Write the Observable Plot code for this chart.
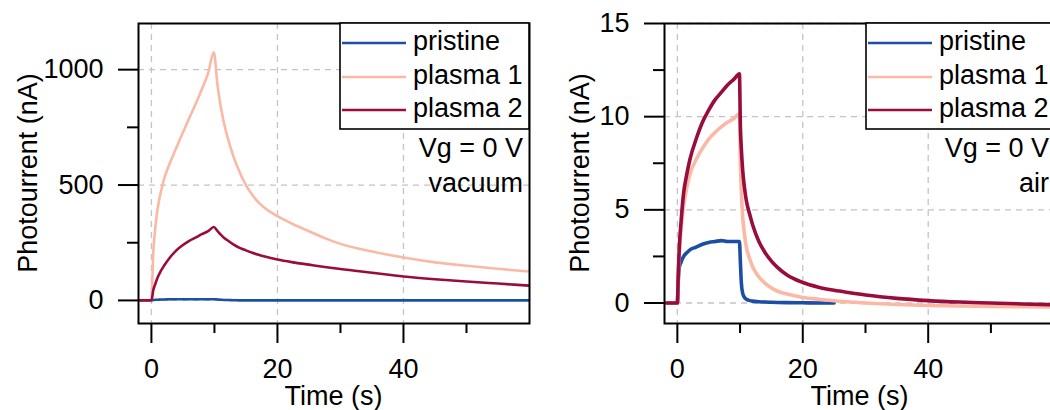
<!DOCTYPE html>
<html><head><meta charset="utf-8">
<script src="https://cdn.jsdelivr.net/npm/d3@7"></script>
<script src="https://cdn.jsdelivr.net/npm/@observablehq/plot@0.6"></script>
<style>
html,body{margin:0;padding:0;background:#fff;overflow:hidden;width:1050px;height:410px;}
#wrap{position:relative;width:1050px;height:410px;overflow:hidden;}
.panel{position:absolute;top:0;width:532px;height:410px;}
.panel svg{max-width:none !important;width:532px !important;height:410px !important;}
</style></head><body><div id="wrap"></div>
<script>
// ---- data ----
const seriesNames = ["pristine", "plasma 1", "plasma 2"];
const seriesColors = ["#1d4ea5", "#fbb9a5", "#990d3d"];
const xMajorTicks = [0, 20, 40];
const xMinorTicks = [10, 30, 50];
const xTitle = "Time (s)";
const yTitle = "Photourrent (nA)";
const gateLabel = "Vg = 0 V";

// vacuum panel
const vacTime     = [-1.8, 0, 0.3, 0.6, 1, 1.5, 2, 3, 4, 5, 6, 7, 8, 9, 9.9, 10.5, 11, 11.5, 12, 13, 14, 15, 16, 17, 18, 20, 22.5, 25, 27.5, 30, 35, 40, 45, 50, 55, 60];
const vacPristine = [0, 0, 2, 3, 3, 4, 4, 5, 5, 5, 5, 5, 5, 5, 5, 4, 3, 2, 2, 1, 0, 0, 0, 0, 0, 0, 0, 0, 0, 0, 0, 0, 0, 0, 0, 0];
const vacPlasma1  = [0, 0, 210, 310, 400, 470, 525, 600, 665, 728, 790, 850, 915, 985, 1075, 930, 840, 770, 715, 625, 555, 500, 458, 425, 400, 365, 330, 300, 270, 245, 212, 186, 165, 150, 137, 125];
const vacPlasma2  = [0, 0, 45, 70, 100, 128, 150, 188, 218, 240, 258, 272, 287, 300, 318, 300, 285, 272, 262, 243, 228, 217, 207, 198, 190, 177, 165, 155, 145, 136, 120, 104, 92, 82, 73, 64];
const vacYMajor = [0, 500, 1000];
const vacYMinor = [250, 750];
const vacCondition = "vacuum";

// air panel
const airTime     = [-1.7, 0, 0.15, 0.3, 0.6, 1, 1.5, 2, 3, 4, 5, 6, 7, 8, 9, 9.9, 10.05, 10.2, 10.4, 10.7, 11, 11.5, 12, 13, 14, 15, 16, 17.5, 20, 22.5, 25, 27.5, 30, 35, 40, 45, 50, 55, 60];
const airPristine = [0, 0, 1.2, 1.9, 2.2, 2.5, 2.7, 2.85, 3.0, 3.15, 3.25, 3.3, 3.35, 3.3, 3.3, 3.3, 2.2, 1.1, 0.55, 0.3, 0.2, 0.14, 0.1, 0.07, 0.05, 0.04, 0.03, 0.02, 0.01, 0, 0, null, null, null, null, null, null, null, null];
const airPlasma1  = [0, 0, 1.5, 2.6, 4.0, 5.2, 6.2, 6.9, 7.7, 8.3, 8.8, 9.15, 9.45, 9.7, 9.9, 10.15, 7.5, 6.0, 4.7, 3.7, 3.0, 2.4, 1.95, 1.4, 1.05, 0.8, 0.63, 0.48, 0.3, 0.2, 0.12, 0.05, 0, -0.08, -0.13, -0.16, -0.18, -0.2, -0.22];
const airPlasma2  = [0, 0, 1.6, 2.9, 4.4, 5.9, 6.9, 7.7, 8.8, 9.7, 10.35, 10.9, 11.3, 11.7, 12.0, 12.3, 9.5, 8.3, 7.2, 6.2, 5.5, 4.8, 4.2, 3.3, 2.7, 2.25, 1.9, 1.5, 1.1, 0.85, 0.68, 0.55, 0.43, 0.25, 0.13, 0.05, 0, -0.05, -0.09];
const airYMajor = [0, 5, 10, 15];
const airYMinor = [2.5, 7.5, 12.5];
const airCondition = "air";

// ---- drawing ----
const FONT = "'Liberation Sans', Arial, sans-serif";
const FS = 27;
const W = 532, H = 410, ML = 139, MR = 2, MT = 23, MB = 87;

function makePanel({time, series, yDomain, yMajor, yMinor, condition, lineWidth, left, yTitleX, xMax}) {
  const rows = [];
  series.forEach((vals, i) => {
    vals.forEach((v, j) => { if (v !== null) rows.push({t: time[j], v, s: seriesNames[i]}); });
  });
  const fmt = d => `${d}`;
  const plot = Plot.plot({
    width: W, height: H,
    marginLeft: ML, marginRight: MR, marginTop: MT, marginBottom: MB,
    x: {domain: [-2.05, xMax]},
    y: {domain: yDomain},
    color: {domain: seriesNames, range: seriesColors},
    style: {fontFamily: FONT, fontSize: FS + "px", background: "transparent", color: "#000", maxWidth: "none"},
    marks: [
      Plot.gridX({ticks: xMajorTicks, stroke: "#c4c4c4", strokeOpacity: 1, strokeWidth: 1.3, strokeDasharray: "6,5"}),
      Plot.gridY({ticks: yMajor, stroke: "#c4c4c4", strokeOpacity: 1, strokeWidth: 1.3, strokeDasharray: "6,5"}),
      Plot.line(rows, {x: "t", y: "v", z: "s", stroke: "s", strokeWidth: lineWidth, curve: "monotone-x", clip: true}),
      Plot.axisX({ticks: xMajorTicks, tickSize: 20, tickPadding: 15, strokeWidth: 2, strokeOpacity: 1, fontSize: FS, tickFormat: fmt, label: null}),
      Plot.axisX({ticks: xMinorTicks, tickSize: 10, text: null, strokeWidth: 2, strokeOpacity: 1, label: null}),
      Plot.axisY({ticks: yMajor, tickSize: 20, tickPadding: 15, strokeWidth: 2, strokeOpacity: 1, fontSize: FS, tickFormat: fmt, label: null}),
      Plot.axisY({ticks: yMinor, tickSize: 11, text: null, strokeWidth: 2, strokeOpacity: 1, label: null}),
      Plot.frame({stroke: "#000", strokeWidth: 2})
    ]
  });
  const svg = d3.select(plot);
  const fr = W - MR; // frame right
  const lx = ML + 202;
  const g = svg.append("g").attr("font-family", FONT).attr("font-size", FS).attr("fill", "#000")
    .attr("text-anchor", "start");
  g.append("rect").attr("x", lx).attr("y", MT).attr("width", fr - lx).attr("height", 106)
    .attr("fill", "#fff").attr("stroke", "#000").attr("stroke-width", 1.6);
  const rowsY = [43, 77, 110];
  seriesNames.forEach((n, i) => {
    g.append("line").attr("x1", lx + 2).attr("x2", lx + 66).attr("y1", rowsY[i]).attr("y2", rowsY[i])
      .attr("stroke", seriesColors[i]).attr("stroke-width", 2.5);
    g.append("text").attr("x", lx + 73).attr("y", rowsY[i] + 7).attr("text-anchor", "start").text(n);
  });
  g.append("text").attr("x", fr - 6).attr("y", 157).attr("text-anchor", "end").text(gateLabel);
  g.append("text").attr("x", fr - 6).attr("y", 192).attr("text-anchor", "end").text(condition);
  g.append("text").attr("x", (ML + fr) / 2).attr("y", 405).attr("text-anchor", "middle").text(xTitle);
  g.append("text").attr("transform", `translate(${yTitleX},173) rotate(-90)`).attr("text-anchor", "middle").text(yTitle);
  const div = document.createElement("div");
  div.className = "panel";
  div.style.left = left + "px";
  div.appendChild(plot);
  document.getElementById("wrap").appendChild(div);
}

makePanel({time: vacTime, series: [vacPristine, vacPlasma1, vacPlasma2], yDomain: [-100, 1200],
  yMajor: vacYMajor, yMinor: vacYMinor, condition: vacCondition, lineWidth: 2.6, left: -1, yTitleX: 38, xMax: 60});
makePanel({time: airTime, series: [airPristine, airPlasma1, airPlasma2], yDomain: [-1.1, 15],
  yMajor: airYMajor, yMinor: airYMinor, condition: airCondition, lineWidth: 3.6, left: 525, yTitleX: 64, xMax: 60.3});
</script></body></html>
